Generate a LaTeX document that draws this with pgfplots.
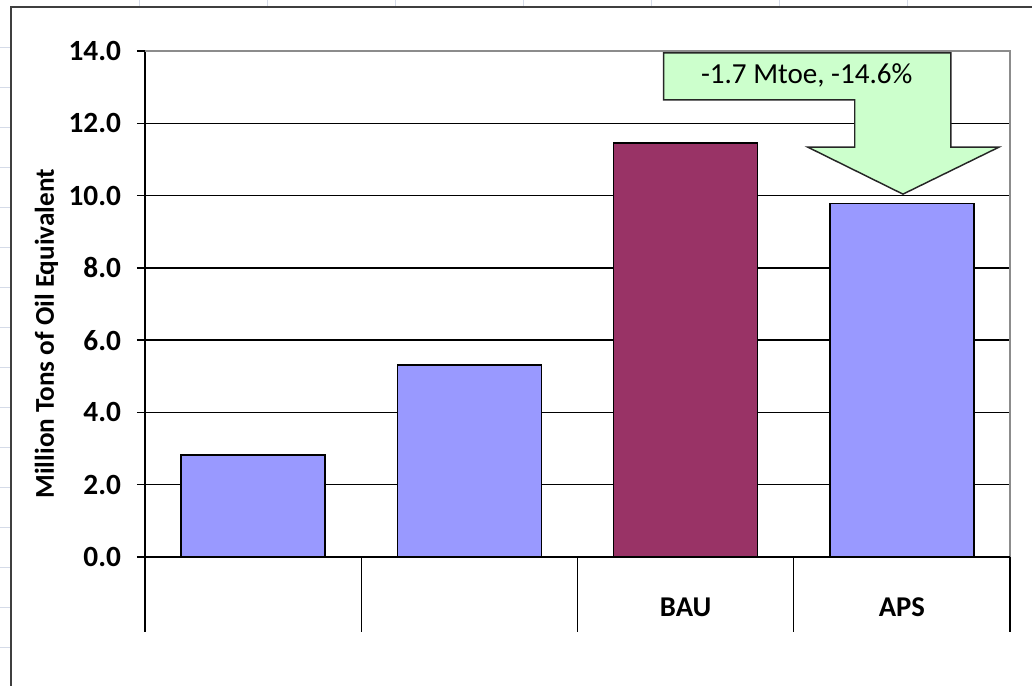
\documentclass[border=0pt]{standalone}
\usepackage{pgfplots}
\pgfplotsset{compat=1.18}
\usepackage{fontspec}
\setmainfont{Carlito}
\definecolor{barblue}{HTML}{9999FF}
\definecolor{barmaroon}{HTML}{993366}
\definecolor{arrowgreen}{HTML}{CCFFCC}
\definecolor{cellgrid}{HTML}{D5DBE8}
\definecolor{frameline}{HTML}{3F3F3F}
\definecolor{borderg}{HTML}{8C8C8C}
\begin{document}
\begin{tikzpicture}
\path[use as bounding box] (0pt,0pt) rectangle (774pt,-514.5pt);
\begin{axis}[
  at={(108.75pt,-417.75pt)}, anchor=south west,
  scale only axis, width=648.75pt, height=379.5pt,
  xmin=-0.5, xmax=3.5, ymin=0, ymax=14,
  clip=false,
  axis x line*=bottom, axis y line*=left,
  axis line style={black, line width=1pt},
  xtick={0,1,2,3}, xticklabels={,,BAU,APS},
  xtick style={draw=none},
  ytick={0,2,...,14},
  tick align=outside, major tick length=6pt,
  ytick style={black, line width=1pt},
  ymajorgrids, grid style={black, line width=1pt},
  yticklabel style={/pgf/number format/fixed, /pgf/number format/fixed zerofill, /pgf/number format/precision=1, /pgf/number format/assume math mode=true, font=\fontsize{22}{26}\selectfont\bfseries, xshift=-8.5pt},
  xticklabel style={font=\fontsize{21.5}{26}\selectfont\bfseries, anchor=center, yshift=-32pt},
  ylabel={Million Tons of Oil Equivalent},
  ylabel style={at={(axis description cs:-0.114,0.441)}, anchor=center, rotate=0, font=\fontsize{20.4}{24}\selectfont\bfseries},
  ybar, bar width=108pt, bar shift=0pt,
]
\addplot[fill=barblue, draw=black, line width=1.1pt] coordinates {(0,2.82) (1,5.31) (3,9.78)};
\addplot[fill=barmaroon, draw=black, line width=1.1pt] coordinates {(2,11.45)};
% plot area border
\draw[borderg, line width=1pt] (axis cs:-0.5,14) -- (axis cs:3.5,14) -- (axis cs:3.5,0);
% category boxes
\draw[black, line width=1pt] (axis cs:-0.5,0) -- ++(0pt,-56.25pt);
\draw[black, line width=1pt] (axis cs:0.5,0) -- ++(0pt,-56.25pt);
\draw[black, line width=1pt] (axis cs:1.5,0) -- ++(0pt,-56.25pt);
\draw[black, line width=1pt] (axis cs:2.5,0) -- ++(0pt,-56.25pt);
\draw[black, line width=1pt] (axis cs:3.5,0) -- ++(0pt,-56.25pt);
\draw[black, line width=1pt] (axis cs:-0.5,0) -- (axis cs:3.5,0);
% callout arrow
\draw[fill=arrowgreen, draw=black!85, line width=1.1pt, line join=miter]
  (axis cs:1.898,13.95) -- (axis cs:3.227,13.95) -- (axis cs:3.227,11.34) -- (axis cs:3.449,11.34)
  -- (axis cs:3.005,10.04) -- (axis cs:2.565,11.34) -- (axis cs:2.782,11.34) -- (axis cs:2.782,12.65)
  -- (axis cs:1.898,12.65) -- cycle;
\node[font=\fontsize{21.8}{26}\selectfont, anchor=center] at (axis cs:2.56,13.32) {-1.7 Mtoe, -14.6\%};
\end{axis}
\begin{scope}[x=0.75pt,y=-0.75pt]
\foreach \gx in {139,267,395,523,651,779,907} {
  \draw[cellgrid, line width=0.75pt] (\gx,0) -- (\gx,6);
}
\foreach \gy in {47,87,...,687} {
  \draw[cellgrid, line width=0.75pt] (0,\gy) -- (10,\gy);
}
\draw[frameline, line width=1.5pt] (1032,7) -- (11,7) -- (11,686);
\end{scope}
\end{tikzpicture}
\end{document}
